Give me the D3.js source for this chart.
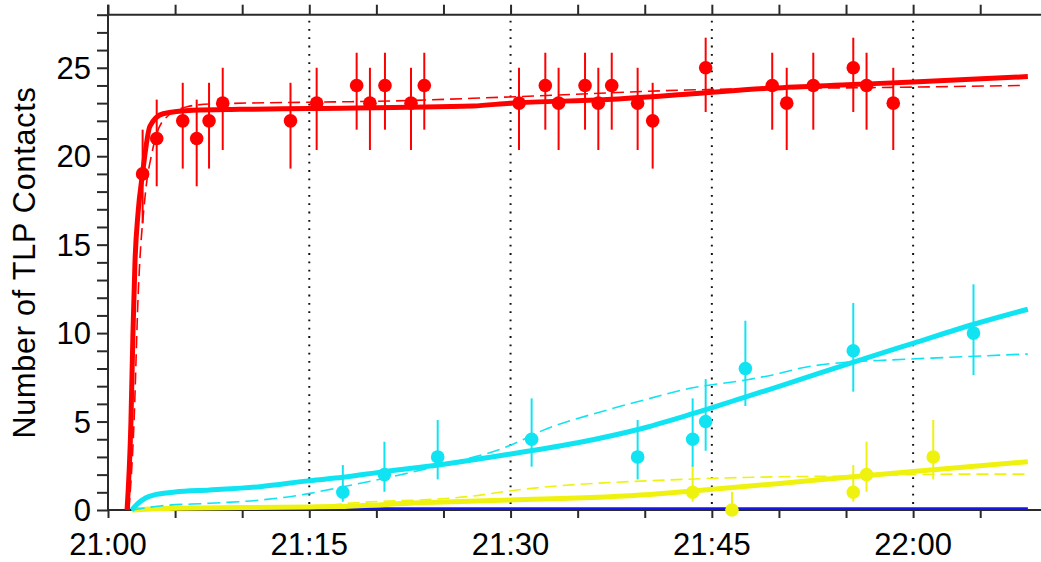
<!DOCTYPE html>
<html>
<head>
<meta charset="utf-8">
<script src="https://cdn.jsdelivr.net/npm/d3@7"></script>
<style>
  body { margin: 0; background: #fff; }
  svg { display: block; }
  text { font-family: "Liberation Sans", Arial, sans-serif; fill: #000; }
</style>
</head>
<body>
<svg id="chart" width="1041" height="562"></svg>
<script>
// Time is expressed in minutes after 21:00.
const tickMinutes = [0, 15, 30, 45, 60];
const tickLabels = ["21:00", "21:15", "21:30", "21:45", "22:00"];
const minorTickMinutes = [0, 5, 10, 15, 20, 25, 30, 35, 40, 45, 50, 55, 60, 65];
const gridMinutes = [15, 30, 45, 60];
const yLabelValues = [0, 5, 10, 15, 20, 25];
const yMinorValues = d3.range(0, 29);
const yTitle = "Number of TLP Contacts";

// Observed contacts, red series
const redTime  = [2.58, 3.63, 5.57, 6.61, 7.53, 8.55, 13.6, 15.55, 18.53, 19.52, 20.64, 22.58, 23.57,
                  30.63, 32.59, 33.58, 35.55, 36.54, 37.54, 39.47, 40.59, 44.54, 49.5, 50.58, 52.56,
                  55.54, 56.53, 58.52];
const redCount = [19, 21, 22, 21, 22, 23, 22, 23, 24, 23, 24, 23, 24,
                  23, 24, 23, 24, 23, 24, 23, 22, 25, 24, 23, 24,
                  25, 24, 23];
const redLow   = [16.2, 18.3, 19.3, 18.3, 19.3, 20.35, 19.3, 20.35, 21.5, 20.35, 21.5, 20.35, 21.5,
                  20.35, 21.5, 20.35, 21.5, 20.35, 21.5, 20.35, 19.3, 22.5, 21.5, 20.35, 21.5,
                  22.5, 21.5, 20.35];
const redHigh  = [21.5, 23.2, 24.15, 23.2, 24.15, 25.0, 24.15, 25.0, 25.85, 25.0, 25.85, 25.0, 25.85,
                  25.0, 25.85, 25.0, 25.85, 25.0, 25.85, 25.0, 24.15, 26.7, 25.85, 25.0, 25.85,
                  26.7, 25.85, 25.0];

// Observed contacts, cyan series
const cyanTime  = [17.5, 20.6, 24.57, 31.57, 39.47, 43.57, 44.54, 47.5, 55.54, 64.5];
const cyanCount = [1, 2, 3, 4, 3, 4, 5, 8, 9, 10];
const cyanLow   = [0.47, 1.03, 1.73, 2.45, 1.73, 2.45, 3.35, 5.88, 6.69, 7.63];
const cyanHigh  = [2.54, 3.86, 5.09, 6.31, 5.09, 6.31, 7.4, 10.7, 11.7, 12.76];

// Observed contacts, yellow series
const yellowTime  = [43.57, 46.5, 55.54, 56.53, 61.5];
const yellowCount = [1, 0, 1, 2, 3];
const yellowLow   = [0.47, 0, 0.47, 1.03, 1.73];
const yellowHigh  = [2.54, 1.03, 2.54, 3.86, 5.09];

// Model curves (solid = main fit, dashed = alternative fit)
const redFitTime  = [1.42, 1.71, 1.86, 2.01, 2.24, 2.57, 3.13, 4.10, 6.33, 9.84, 15.05, 27.2, 29.96, 37.2, 43.1, 49.5, 55.5, 60.0, 68.55];
const redFitValue = [0, 5, 10, 14, 16.8, 19, 21.7, 22.4, 22.6, 22.65, 22.7, 22.84, 23.0, 23.2, 23.5, 23.85, 24.05, 24.2, 24.5];
const redAltTime  = [1.56, 1.94, 2.24, 2.76, 3.28, 4.10, 5.89, 7.6, 16.77, 19.75, 29.2, 43.1, 59.2, 68.25];
const redAltValue = [0, 5, 12, 17.7, 20.2, 22.0, 22.8, 22.95, 23.07, 23.1, 23.33, 23.74, 23.9, 24.0];

const cyanFitTime  = [1.77, 2.2, 2.8, 3.6, 5.0, 7.6, 11.33, 15.05, 17.51, 20.57, 24.59, 30.03, 35.0, 39.49, 43.37, 47.54, 50.07, 55.51, 59.99, 64.53, 68.55];
const cyanFitValue = [0, 0.35, 0.68, 0.88, 1.02, 1.13, 1.32, 1.66, 1.85, 2.17, 2.54, 3.17, 3.8, 4.55, 5.4, 6.4, 7.0, 8.35, 9.42, 10.5, 11.35];
const cyanAltTime  = [1.77, 3.87, 7.6, 11.33, 15.05, 16.32, 20.57, 24.59, 30.03, 32.19, 37.18, 40.39, 43.37, 47.54, 50.07, 51.56, 55.51, 58.27, 68.55];
const cyanAltValue = [0, 0.23, 0.38, 0.56, 0.94, 1.13, 1.79, 2.49, 3.67, 4.43, 5.65, 6.31, 6.88, 7.35, 7.73, 8.01, 8.38, 8.48, 8.82];

const yellowFitTime  = [1.77, 5.14, 15.05, 17.29, 23.25, 30.03, 40.39, 43.37, 50.07, 55.51, 59.99, 68.55];
const yellowFitValue = [0, 0.1, 0.17, 0.2, 0.41, 0.56, 0.88, 1.06, 1.5, 1.88, 2.17, 2.73];
const yellowAltTime  = [1.77, 5.14, 15.05, 17.29, 27.2, 30.03, 42.85, 50.07, 55.51, 59.99, 64.38, 68.55];
const yellowAltValue = [0, 0.08, 0.17, 0.34, 0.79, 1.09, 1.73, 1.88, 1.92, 2.0, 2.03, 2.03];

const blueFitTime  = [1.77, 68.55];
const blueFitValue = [0, 0];

const colors = { red: "#ff0000", cyan: "#10e4f2", yellow: "#eef20e", blue: "#1414ee" };
const axisColor = "#2a2a2a";

const svg = d3.select("#chart");
const x = d3.scaleLinear().domain([0, 69.5]).range([108, 1040.6]);
const y = d3.scaleLinear().domain([0, 28]).range([510, 14.7]);

const zip = (a, b) => a.map((v, i) => [v, b[i]]);
const line = d3.line().x(d => x(d[0])).y(d => y(d[1])).curve(d3.curveMonotoneX);

// Dotted reference lines at the quarter hours
svg.append("g").selectAll("line").data(gridMinutes).join("line")
  .attr("x1", d => x(d)).attr("x2", d => x(d))
  .attr("y1", y(28) + 6).attr("y2", y(0) - 3)
  .attr("stroke", "#111").attr("stroke-width", 2)
  .attr("stroke-dasharray", "1.8,6.5");

// Axes
const gx = svg.append("g").attr("transform", `translate(0,${y(0)})`)
  .call(d3.axisBottom(x).tickValues(minorTickMinutes).tickSize(8).tickSizeOuter(0).tickFormat(""));
const gt = svg.append("g").attr("transform", `translate(0,${y(28)})`)
  .call(d3.axisTop(x).tickValues(minorTickMinutes).tickSize(10).tickSizeOuter(0).tickFormat(""));
const gy = svg.append("g").attr("transform", `translate(${x(0)},0)`)
  .call(d3.axisLeft(y).tickValues(yMinorValues).tickSize(11).tickSizeOuter(0).tickFormat(""));
[gx, gt, gy].forEach(g => {
  g.selectAll("path.domain").remove();
  g.selectAll("line").attr("stroke", axisColor).attr("stroke-width", 2);
});
svg.append("line").attr("x1", x(0)).attr("x2", 1041).attr("y1", y(0)).attr("y2", y(0))
  .attr("stroke", axisColor).attr("stroke-width", 2);
svg.append("line").attr("x1", x(0)).attr("x2", 1041).attr("y1", y(28)).attr("y2", y(28))
  .attr("stroke", axisColor).attr("stroke-width", 2);
svg.append("line").attr("x1", x(0)).attr("x2", x(0)).attr("y1", y(28) - 10).attr("y2", y(0))
  .attr("stroke", axisColor).attr("stroke-width", 2);

// Tick labels
svg.append("g").selectAll("text").data(tickMinutes).join("text")
  .attr("x", d => x(d)).attr("y", 555)
  .attr("text-anchor", "middle").attr("font-size", 31)
  .text((d, i) => tickLabels[i]);
svg.append("g").selectAll("text").data(yLabelValues).join("text")
  .attr("x", 91).attr("y", d => y(d)).attr("dy", "0.355em")
  .attr("text-anchor", "end").attr("font-size", 31)
  .text(d => d);

// Axis title
svg.append("text")
  .attr("transform", "translate(35,262.5) rotate(-90)")
  .attr("text-anchor", "middle").attr("font-size", 30.5)
  .attr("letter-spacing", 0.8)
  .text(yTitle);

// Fit curves
const curves = [
  { t: blueFitTime, v: blueFitValue, c: colors.blue, w: 2.5, dash: null, dy: -1.5 },
  { t: yellowAltTime, v: yellowAltValue, c: colors.yellow, w: 1.6, dash: "12,6", dy: 0 },
  { t: yellowFitTime, v: yellowFitValue, c: colors.yellow, w: 5, dash: null, dy: 0 },
  { t: cyanAltTime, v: cyanAltValue, c: colors.cyan, w: 1.6, dash: "13,6", dy: 0 },
  { t: cyanFitTime, v: cyanFitValue, c: colors.cyan, w: 5, dash: null, dy: 0 },
  { t: redAltTime, v: redAltValue, c: colors.red, w: 1.6, dash: "12,6", dy: 0 },
  { t: redFitTime, v: redFitValue, c: colors.red, w: 5, dash: null, dy: 0 }
];
svg.append("g").selectAll("path").data(curves).join("path")
  .attr("d", d => line(zip(d.t, d.v)))
  .attr("transform", d => `translate(0,${d.dy})`)
  .attr("fill", "none").attr("stroke", d => d.c).attr("stroke-width", d => d.w)
  .attr("stroke-dasharray", d => d.dash);

// Observations with error bars
const series = [
  { t: yellowTime, n: yellowCount, lo: yellowLow, hi: yellowHigh, c: colors.yellow },
  { t: cyanTime, n: cyanCount, lo: cyanLow, hi: cyanHigh, c: colors.cyan },
  { t: redTime, n: redCount, lo: redLow, hi: redHigh, c: colors.red }
];
series.forEach(s => {
  const pts = s.t.map((t, i) => ({ t, n: s.n[i], lo: s.lo[i], hi: s.hi[i] }));
  const g = svg.append("g");
  g.selectAll("line").data(pts).join("line")
    .attr("x1", d => x(d.t)).attr("x2", d => x(d.t))
    .attr("y1", d => y(d.lo)).attr("y2", d => y(d.hi))
    .attr("stroke", s.c).attr("stroke-width", 2);
  g.selectAll("circle").data(pts).join("circle")
    .attr("cx", d => x(d.t)).attr("cy", d => y(d.n)).attr("r", 6.8)
    .attr("fill", s.c);
});
</script>
</body>
</html>
